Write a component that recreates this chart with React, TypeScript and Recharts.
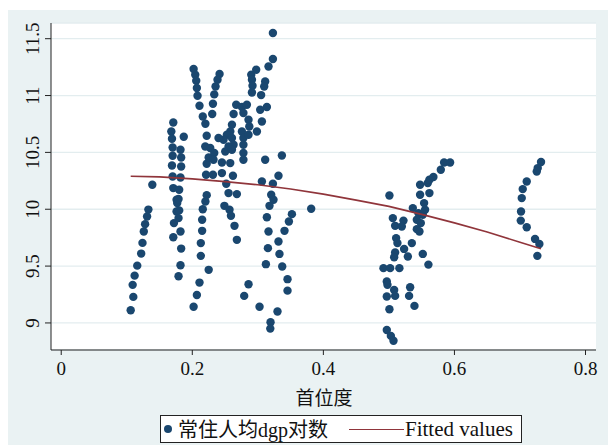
import React from 'react';
import { ScatterChart, Scatter, XAxis, YAxis, CartesianGrid } from 'recharts';

// x = 首位度, y = 常住人均dgp对数
const clusterA: [number, number][] = [
  [0.106, 9.112], [0.110, 9.229], [0.109, 9.335], [0.112, 9.416], [0.116, 9.504], [0.122, 9.61],
  [0.124, 9.704], [0.126, 9.804], [0.128, 9.869], [0.131, 9.936], [0.133, 9.997], [0.139, 10.215],
];

const clusterB: [number, number][] = [
  [0.171, 10.763], [0.168, 10.684], [0.169, 10.62], [0.170, 10.543], [0.170, 10.47], [0.169, 10.385],
  [0.170, 10.288], [0.171, 10.186], [0.176, 10.083], [0.177, 10.054], [0.176, 9.98], [0.172, 9.878],
  [0.171, 9.754], [0.187, 10.637], [0.182, 10.523], [0.183, 10.455], [0.183, 10.376], [0.182, 10.279],
  [0.180, 10.171], [0.179, 10.09], [0.180, 9.99], [0.179, 9.922], [0.182, 9.804], [0.183, 9.654],
  [0.182, 9.508], [0.179, 9.411],
];

const clusterC: [number, number][] = [
  [0.202, 11.233], [0.2045, 11.183], [0.206, 11.13], [0.207, 11.066], [0.208, 10.998], [0.211, 10.91],
  [0.216, 10.816], [0.220, 10.752], [0.222, 10.646], [0.222, 10.4], [0.225, 10.455],
  [0.221, 10.303], [0.222, 10.124], [0.220, 10.068], [0.216, 10.0], [0.215, 9.907], [0.215, 9.81],
  [0.213, 9.702], [0.213, 9.59], [0.225, 9.467], [0.211, 9.355], [0.207, 9.246], [0.202, 9.143],
  [0.2416, 11.19], [0.2385, 11.139], [0.2355, 11.08], [0.2335, 11.01], [0.2315, 10.928], [0.2304, 10.837],
];

const clusterCore: [number, number][] = [
  [0.267, 10.919], [0.2757, 10.899], [0.2833, 10.919], [0.278, 10.846], [0.263, 10.837], [0.2858, 10.787],
  [0.287, 10.728], [0.2605, 10.743], [0.258, 10.684], [0.2757, 10.684], [0.2528, 10.655], [0.2605, 10.626],
  [0.2477, 10.611], [0.240, 10.626], [0.278, 10.626], [0.2858, 10.655], [0.2986, 10.684], [0.3062, 10.772],
  [0.3036, 10.875], [0.3138, 10.899], [0.278, 10.567], [0.263, 10.567], [0.2553, 10.552], [0.2503, 10.508],
  [0.2605, 10.523], [0.2198, 10.552], [0.2274, 10.538], [0.2335, 10.494], [0.2324, 10.435], [0.2452, 10.411],
  [0.2579, 10.406], [0.278, 10.494], [0.278, 10.435], [0.3112, 10.435], [0.3367, 10.473],
  [0.2315, 10.303], [0.2452, 10.318], [0.262, 10.294], [0.2518, 10.224], [0.2553, 10.142], [0.268, 10.133],
  [0.249, 10.03], [0.2568, 9.996], [0.259, 9.942], [0.2644, 9.854], [0.268, 9.731],
];

const clusterD: [number, number][] = [
  [0.2975, 11.227], [0.290, 11.183], [0.291, 11.139], [0.2919, 11.086], [0.291, 11.027], [0.305, 11.004],
  [0.3112, 11.124], [0.3097, 11.08], [0.3163, 11.256], [0.323, 11.321], [0.323, 11.55],
  [0.3315, 10.294], [0.3062, 10.244], [0.323, 10.224], [0.3204, 10.127], [0.3239, 10.083], [0.3178, 10.03],
  [0.3138, 9.93], [0.3163, 9.804], [0.3154, 9.658], [0.3123, 9.517], [0.333, 9.607], [0.3315, 9.716],
  [0.3407, 9.81], [0.3474, 9.892], [0.3372, 9.496], [0.3453, 9.385], [0.3453, 9.284], [0.330, 9.10],
  [0.3194, 9.006], [0.319, 8.95], [0.352, 9.957], [0.3814, 10.004], [0.2858, 9.34], [0.2792, 9.238],
  [0.3026, 9.143],
];

const clusterE: [number, number][] = [
  [0.5008, 10.121], [0.506, 9.922], [0.5095, 9.854], [0.5222, 9.9], [0.5197, 9.848], [0.511, 9.746],
  [0.513, 9.702], [0.535, 9.702], [0.5232, 9.651], [0.5095, 9.619], [0.508, 9.578], [0.5289, 9.584],
  [0.5517, 9.607], [0.5603, 9.513], [0.4917, 9.482], [0.5019, 9.482], [0.516, 9.482], [0.4968, 9.364],
  [0.4978, 9.335], [0.508, 9.29], [0.5095, 9.238], [0.5324, 9.314], [0.5308, 9.238], [0.4968, 9.232],
  [0.5008, 9.121], [0.539, 9.15], [0.4968, 8.938], [0.503, 8.886], [0.507, 8.844],
  [0.5365, 10.01], [0.545, 9.966], [0.5426, 9.907], [0.5487, 9.878], [0.5426, 9.825], [0.5466, 9.804],
  [0.5517, 9.951], [0.5552, 9.995], [0.5537, 10.054], [0.5476, 10.127], [0.5618, 10.142], [0.5476, 10.215],
  [0.5593, 10.23], [0.5618, 10.259], [0.5679, 10.283], [0.5792, 10.347], [0.5842, 10.411], [0.5934, 10.411],
];

const clusterF: [number, number][] = [
  [0.7321, 10.415], [0.7271, 10.362], [0.7256, 10.332], [0.7103, 10.244], [0.7042, 10.177], [0.7027, 10.098],
  [0.7016, 9.98], [0.7012, 9.9], [0.7103, 9.842], [0.723, 9.739], [0.7296, 9.695], [0.7265, 9.59],
];

// Fitted values
const fitX = [0.106, 0.15, 0.2, 0.25, 0.3, 0.35, 0.4, 0.45, 0.5, 0.55, 0.6, 0.65, 0.7, 0.732];
const fitY = [10.29, 10.285, 10.267, 10.243, 10.215, 10.178, 10.133, 10.08, 10.025, 9.955, 9.88, 9.8, 9.71, 9.652];

const xTicks = [0, 0.2, 0.4, 0.6, 0.8];
const yTicks = [9, 9.5, 10, 10.5, 11, 11.5];

const scatterData = [...clusterA, ...clusterB, ...clusterC, ...clusterCore, ...clusterD, ...clusterE, ...clusterF]
  .map(([x, y]) => ({ x, y }));
const fitData = fitX.map((x, i) => ({ x, y: fitY[i] }));

const NAVY = '#1a476f';
const MAROON = '#90353b';
const BG = '#eaf2f3';
const SERIF = '"Times New Roman", "Liberation Serif", Tinos, "DejaVu Serif", serif';
const CJK = '"Noto Sans CJK SC", sans-serif';

const Dot = ({ cx, cy }: any) => <circle cx={cx} cy={cy} r={4.2} fill={NAVY} />;

const YTick = ({ y, payload }: any) => (
  <text x={39} y={y} transform={`rotate(-90, 39, ${y})`} textAnchor="middle" fontSize={19} fill="#111" style={{ fontFamily: SERIF }}>
    {payload.value}
  </text>
);

const XTick = ({ x, y, payload }: any) => (
  <text x={x} y={y + 18} textAnchor="middle" fontSize={19} fill="#111" style={{ fontFamily: SERIF }}>
    {payload.value}
  </text>
);

const XTitle = ({ viewBox }: any) => (
  <text x={324} y={viewBox.y + 55} textAnchor="middle" fontSize={19} fill="#111" style={{ fontFamily: CJK }}>
    首位度
  </text>
);

export default function App() {
  return (
    <div style={{ position: 'absolute', left: 0, top: 0, width: 608, height: 445, background: '#fff', fontFamily: SERIF }}>
      <div style={{ position: 'absolute', left: 8, top: 10, width: 600, height: 435, background: BG }} />
      <div style={{ position: 'absolute', left: 0, top: 0 }}>
        <ScatterChart width={608} height={445} margin={{ top: 23, right: 12, left: 0, bottom: 0 }}>
          <CartesianGrid horizontal vertical={false} fill="#fff" stroke="#e3edef" strokeWidth={1.3} />
          <XAxis
            type="number"
            dataKey="x"
            domain={[-0.0156, 0.816]}
            ticks={xTicks}
            allowDataOverflow
            height={95}
            tickSize={5}
            axisLine={{ stroke: '#222' }}
            tickLine={{ stroke: '#222' }}
            tick={<XTick />}
            label={<XTitle />}
          />
          <YAxis
            type="number"
            dataKey="y"
            domain={[8.762, 11.638]}
            ticks={yTicks}
            allowDataOverflow
            width={51}
            tickSize={6}
            axisLine={{ stroke: '#222' }}
            tickLine={{ stroke: '#222' }}
            tick={<YTick />}
          />
          <Scatter data={scatterData} shape={<Dot />} isAnimationActive={false} />
          <Scatter
            data={fitData}
            line={{ stroke: MAROON, strokeWidth: 1.6 }}
            shape={() => <g />}
            isAnimationActive={false}
          />
        </ScatterChart>
      </div>
      <div
        style={{
          position: 'absolute', left: 160, top: 415, width: 362, height: 28, boxSizing: 'border-box',
          border: '1px solid #222', background: '#fff', fontSize: 20, color: '#111',
        }}
      >
        <span style={{ position: 'absolute', left: 2.5, top: 9, width: 8.4, height: 8.4, borderRadius: '50%', background: NAVY }} />
        <span style={{ position: 'absolute', left: 17, top: 0, lineHeight: '26px', whiteSpace: 'nowrap' }}>
          <span style={{ fontFamily: CJK }}>常住人均</span>dgp<span style={{ fontFamily: CJK }}>对数</span>
        </span>
        <span style={{ position: 'absolute', left: 188, top: 12.5, width: 55, height: 1.6, background: MAROON }} />
        <span style={{ position: 'absolute', left: 244, top: 0, lineHeight: '26px', whiteSpace: 'nowrap', fontSize: 21 }}>Fitted values</span>
      </div>
    </div>
  );
}
